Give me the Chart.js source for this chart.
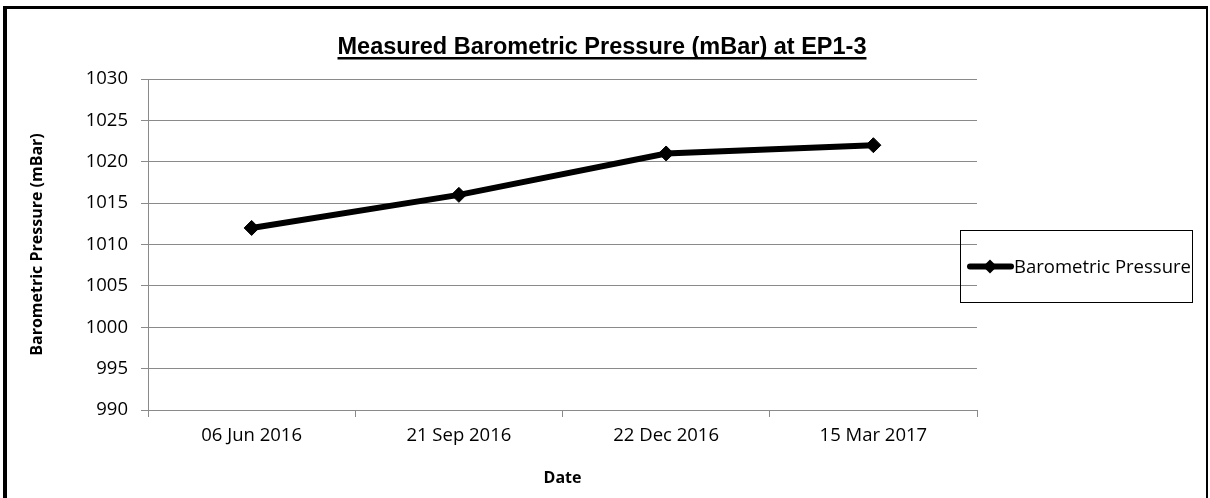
<!DOCTYPE html>
<html>
<head>
<meta charset="utf-8">
<script src="https://cdn.jsdelivr.net/npm/chart.js@4.4.0/dist/chart.umd.min.js"></script>
<style>
  html, body { margin: 0; padding: 0; background: #fff; overflow: hidden; }
  #wrap { position: relative; width: 1210px; height: 498px; }
  #frame {
    position: absolute; left: 3px; top: 6px; width: 1199px; height: 500px;
    border-left: 4px solid #000; border-top: 3px solid #000; border-right: 2px solid #000;
    pointer-events: none;
  }
  canvas { position: absolute; left: 0; top: 0; }
</style>
</head>
<body>
<div id="wrap">
  <canvas id="chart" width="1210" height="498"></canvas>
  <div id="frame"></div>
</div>
<script>
// ---------- Data ----------
const categories = ['06 Jun 2016', '21 Sep 2016', '22 Dec 2016', '15 Mar 2017'];
const pressure = [1012, 1016, 1021, 1022];
const seriesName = 'Barometric Pressure';
const chartTitle = 'Measured Barometric Pressure (mBar) at EP1-3';
const yMin = 990, yMax = 1030, yStep = 5;

const gridColor = '#8a8a8a';
const bodyFont = '"Open Sans", "Liberation Sans", sans-serif';

// ---------- Plugins: underlined title, boxed legend ----------
const titlePlugin = {
  id: 'underlineTitle',
  afterDraw(chart){
    const ctx = chart.ctx;
    ctx.save();
    ctx.font = 'bold 23.5px "Liberation Sans", Arial, sans-serif';
    ctx.fillStyle = '#000';
    ctx.textBaseline = 'alphabetic';
    ctx.textAlign = 'left';
    const w = ctx.measureText(chartTitle).width;
    const x = 602 - w / 2, y = 54;
    ctx.fillText(chartTitle, x, y);
    ctx.fillRect(x, y + 3, w, 2.5);
    ctx.restore();
  }
};

const legendPlugin = {
  id: 'boxLegend',
  afterDraw(chart){
    const ctx = chart.ctx;
    const ds = chart.data.datasets[0];
    const box = { x: 960.5, y: 230.5, w: 232, h: 72 };
    const cy = box.y + box.h / 2;
    ctx.save();
    ctx.strokeStyle = '#000';
    ctx.lineWidth = 1;
    ctx.strokeRect(box.x, box.y, box.w, box.h);
    ctx.strokeStyle = ds.borderColor;
    ctx.lineWidth = ds.borderWidth;
    ctx.lineCap = 'round';
    ctx.beginPath();
    ctx.moveTo(970, cy);
    ctx.lineTo(1011, cy);
    ctx.stroke();
    ctx.fillStyle = ds.pointBackgroundColor;
    ctx.beginPath();
    ctx.moveTo(990, cy - 7);
    ctx.lineTo(997, cy);
    ctx.lineTo(990, cy + 7);
    ctx.lineTo(983, cy);
    ctx.closePath();
    ctx.fill();
    ctx.font = '18.5px ' + bodyFont;
    ctx.textBaseline = 'middle';
    ctx.fillStyle = '#000';
    ctx.fillText(ds.label, 1014, cy + 1);
    ctx.restore();
  }
};

// ---------- Chart ----------
const ctx = document.getElementById('chart').getContext('2d');
new Chart(ctx, {
  type: 'line',
  data: {
    labels: categories,
    datasets: [{
      label: seriesName,
      data: pressure,
      borderColor: '#000',
      backgroundColor: '#000',
      pointBackgroundColor: '#000',
      pointBorderColor: '#000',
      borderWidth: 6,
      pointStyle: 'rectRot',
      pointRadius: 7.5,
      pointBorderWidth: 1,
      tension: 0
    }]
  },
  options: {
    responsive: false,
    animation: false,
    events: [],
    layout: { padding: { left: 0, top: 79, right: 233, bottom: 0 } },
    scales: {
      x: {
        offset: true,
        afterFit(s){ s.height = 88; },
        grid: { offset: true, drawOnChartArea: false, drawTicks: true, tickLength: 7, color: gridColor },
        border: { color: gridColor, width: 1 },
        ticks: { color: '#000', font: { family: bodyFont, size: 18.5 }, padding: 8, maxRotation: 0 },
        title: { display: true, text: 'Date', color: '#000', font: { family: bodyFont, size: 16, weight: 'bold' }, padding: { top: 0, bottom: 10 } }
      },
      y: {
        min: yMin,
        max: yMax,
        afterFit(s){ s.width = 148; },
        grid: { color: gridColor, tickLength: 7, lineWidth: 1 },
        border: { color: gridColor, width: 1 },
        ticks: { stepSize: yStep, color: '#000', font: { family: bodyFont, size: 18.5 }, padding: 13, callback: v => String(v) },
        title: { display: true, text: 'Barometric Pressure (mBar)', color: '#000', font: { family: bodyFont, size: 16, weight: 'bold' }, padding: { top: 28, bottom: 0 } }
      }
    },
    plugins: {
      legend: { display: false },
      title: { display: false },
      tooltip: { enabled: false }
    }
  },
  plugins: [titlePlugin, legendPlugin]
});
</script>
</body>
</html>
